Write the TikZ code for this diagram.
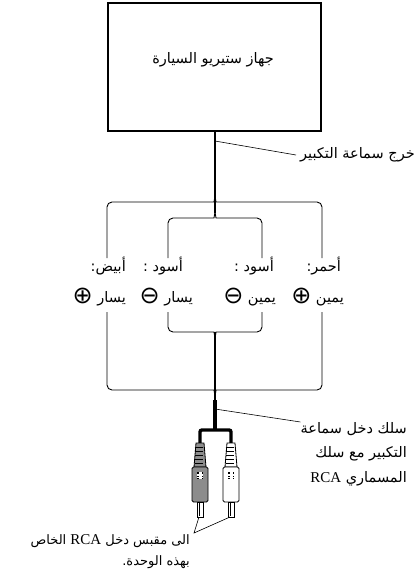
\documentclass[tikz,border=0pt]{standalone}
\usepackage{fontspec}
\setmainfont{Liberation Serif}
\newfontfamily\arabicfont[Script=Arabic]{DejaVu Sans}
\newfontfamily\symfont{DejaVu Sans}
\TeXXeTstate=1
% one right-to-left run of Arabic text
\newcommand\ar[1]{{\arabicfont\beginR #1\endR}}
% Latin "RCA" set between Arabic runs
\newcommand\rcatext{{\rmfamily\fontsize{15}{15}\selectfont RCA}}
% circled polarity sign
\newcommand\pol[1]{{\symfont\fontsize{24}{24}\selectfont\raisebox{-1.5pt}{#1}}}

% an RCA plug centred at x = #2, filled with #3; #1 names the pin tip
\newcommand\rcaplug[3]{%
  \begin{scope}[shift={(#2,0)}]
    \draw[plugline, fill=#3] (-4,443) -- (4,443) -- (6,467) -- (-6,467) -- cycle;
    \foreach \yy in {447,451,455,459,463}
      \draw[line width=0.5pt] (-5.5,\yy) -- (3,\yy);
    \draw[plugline, fill=#3, rounded corners=1.5pt] (-8,467) rectangle (8,502);
    \fill[black] (-2.7,472) rectangle (2.7,479);
    \foreach \gx in {-1.35,0,1.35}
      \draw[white, line width=0.25pt] (\gx,472) -- (\gx,479);
    \foreach \gy in {473.75,475.5,477.25}
      \draw[white, line width=0.25pt] (-2.7,\gy) -- (2.7,\gy);
    \draw[plugline, fill=white] (-3,502) rectangle (3,517);
    \draw[line width=0.4pt] (-1.2,502) -- (-1.2,516);
    \coordinate (#1) at (-1,517);
  \end{scope}}

\begin{document}
\begin{tikzpicture}[x=1pt,y=-1pt,
  wire/.style={line width=0.9pt, rounded corners=5pt},
  trunkwire/.style={line width=1.6pt},
  heavywire/.style={line width=3.4pt, rounded corners=2pt},
  leader/.style={line width=0.6pt},
  plugline/.style={line width=0.8pt},
  txt/.style={inner sep=0pt, font=\arabicfont\fontsize{14.5}{16}\selectfont},
]
\useasboundingbox (0,0) rectangle (418,582);

% head unit
\node[draw, line width=1.5pt, minimum width=213pt, minimum height=128pt, inner sep=0pt]
  (stereo) at (214.5,67) {};
\node[txt] (stereotxt) at (213,60) {\ar{جهاز ستيريو السيارة}};

% speaker output trunk
\coordinate (tapA) at (215,141);
\draw[trunkwire] (stereo.south -| tapA) -- (215,213);

% upper braces
\draw[wire] (107,258) -- (107,202) -- (209,202) .. controls (214,202) .. (215,196);
\draw[wire] (322,258) -- (322,202) -- (221,202) .. controls (216,202) .. (215,196);
\draw[wire] (168,258) -- (168,218) -- (209,218) .. controls (214,218) .. (215,212);
\draw[wire] (262,258) -- (262,218) -- (221,218) .. controls (216,218) .. (215,212);

% wire colour labels
\node[txt, anchor=east] (whiteA) at (126,266) {\ar{أبيض:}};
\node[txt, anchor=east] (whiteB) at (126,297) {\ar{يسار \pol{⊕}}};
\node[txt, anchor=east] (blackLA) at (183,266) {\ar{أسود :}};
\node[txt, anchor=east] (blackLB) at (193,297) {\ar{يسار \pol{⊖}}};
\node[txt, anchor=east] (blackRA) at (274,266) {\ar{أسود :}};
\node[txt, anchor=east] (blackRB) at (276,297) {\ar{يمين \pol{⊖}}};
\node[txt, anchor=east] (redA) at (341,266) {\ar{أحمر:}};
\node[txt, anchor=east] (redB) at (344,297) {\ar{يمين \pol{⊕}}};

% lower braces
\draw[wire] (168,312) -- (168,332) -- (209,332) .. controls (214,332) .. (215,338);
\draw[wire] (262,312) -- (262,332) -- (221,332) .. controls (216,332) .. (215,338);
\draw[wire] (107,312) -- (107,390) -- (209,390) .. controls (214,390) .. (215,396);
\draw[wire] (322,312) -- (322,390) -- (221,390) .. controls (216,390) .. (215,396);

% input cable down to the RCA split
\coordinate (tapB) at (215,409);
\coordinate (split) at (215,430);
\draw[trunkwire] (215,332) -- (215,402);
\draw[line width=3.4pt] (215,400) -- (split);
\draw[heavywire] (200,444) |- (split) -| (231,444);

% RCA plugs
\rcaplug{pinL}{200}{black!45}
\rcaplug{pinR}{231}{white}

% callouts
\node[txt, anchor=west] (outlbl) at (300,155) {\ar{خرج سماعة التكبير}};
\draw[leader] (tapA) -- ([xshift=-4pt]outlbl.west);

\node[txt, anchor=north east, align=right,
      font=\arabicfont\fontsize{14.5}{24.5}\selectfont] (cablelbl) at (407,422)
  {\ar{سلك دخل سماعة}\\ \ar{التكبير مع سلك}\\ \rcatext\ \ar{المسماري}};
\draw[leader] (tapB) -- (cablelbl.north west);

\coordinate (jackTip) at (194,533);
\node[txt, anchor=north east, align=right,
      font=\arabicfont\fontsize{13}{21}\selectfont] (jacklbl) at (190,534)
  {\ar{الخاص} \rcatext\ \ar{الى مقبس دخل}\\ \ar{بهذه الوحدة.}};
\draw[leader] (pinL) -- (jackTip) -- (pinR);
\end{tikzpicture}
\end{document}
